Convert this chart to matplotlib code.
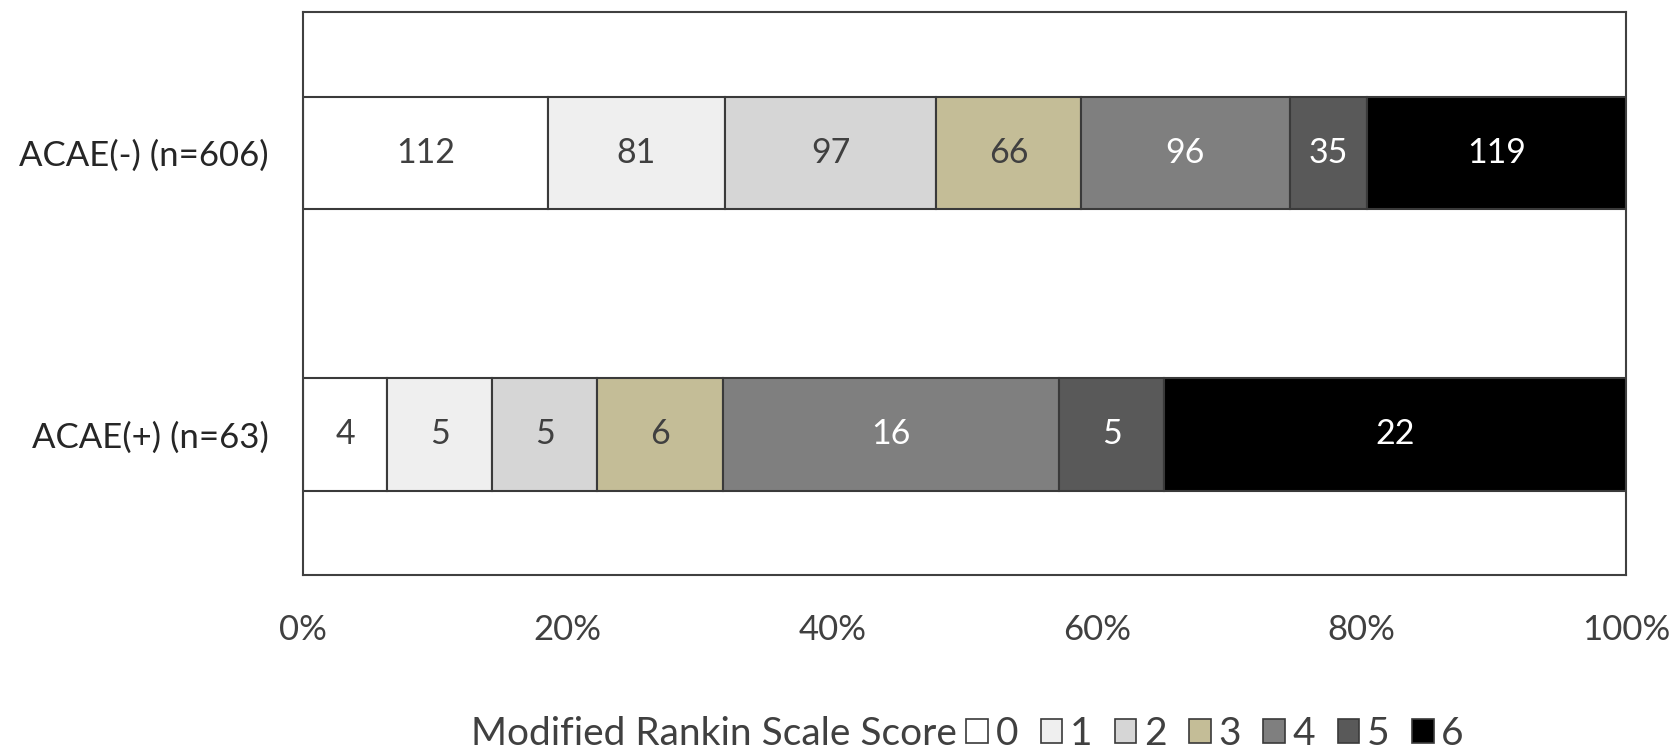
import matplotlib
matplotlib.use("Agg")
import matplotlib.pyplot as plt
from matplotlib.patches import Patch
import numpy as np

groups = ["ACAE(+) (n=63)", "ACAE(-) (n=606)"]
scores = ["0", "1", "2", "3", "4", "5", "6"]
acae_pos = [4, 5, 5, 6, 16, 5, 22]
acae_neg = [112, 81, 97, 66, 96, 35, 119]
xtick_labels = ["0%", "20%", "40%", "60%", "80%", "100%"]

colors = ["#ffffff", "#efefef", "#d6d6d6", "#c4bd97", "#7f7f7f", "#595959", "#000000"]
text_colors = ["#404040", "#404040", "#404040", "#404040", "#ffffff", "#ffffff", "#ffffff"]

plt.rcParams['font.family'] = ['Lato', 'DejaVu Sans']

fig = plt.figure(figsize=(16.75, 7.54), dpi=100)
ax = fig.add_axes([0.181, 0.2374, 0.971 - 0.181, 0.984 - 0.2374])

counts = np.array([acae_pos, acae_neg], dtype=float)
totals = counts.sum(axis=1, keepdims=True)
shares = counts / totals

y = np.arange(len(groups))
left = np.zeros(len(groups))
for j, s in enumerate(scores):
    ax.barh(y, shares[:, j], left=left, height=0.4, color=colors[j],
            edgecolor="#3a3a3a", linewidth=1.5, label=s)
    for i in range(len(groups)):
        ax.text(left[i] + shares[i, j] / 2, y[i], f"{int(counts[i, j])}",
                ha="center", va="center", fontsize=24.5, color=text_colors[j])
    left += shares[:, j]

ax.set_xlim(0, 1)
ax.set_ylim(-0.5, 1.5)
ax.set_xticks(np.linspace(0, 1, len(xtick_labels)))
ax.set_xticklabels(xtick_labels, fontsize=25, color="#404040")
ax.set_yticks(y)
ax.set_yticklabels(groups, fontsize=25, color="#262626")
ax.tick_params(axis="both", length=0)
ax.tick_params(axis="x", pad=28)
ax.tick_params(axis="y", pad=25)
for sp in ax.spines.values():
    sp.set_color("#404040")
    sp.set_linewidth(1.5)

fig.text(0.281, 0.027, "Modified Rankin Scale Score", fontsize=28,
         color="#404040", ha="left", va="center")
handles = [Patch(facecolor=colors[j], edgecolor="#3a3a3a", linewidth=1.2) for j in range(len(scores))]
fig.legend(handles, scores, loc="center left", bbox_to_anchor=(0.577, 0.027),
           ncol=7, frameon=False, fontsize=28, handlelength=0.55, handleheight=0.55,
           handletextpad=0.2, columnspacing=0.58, borderpad=0, borderaxespad=0,
           labelcolor="#404040")

fig.savefig("out.png", dpi=100, facecolor="white")
